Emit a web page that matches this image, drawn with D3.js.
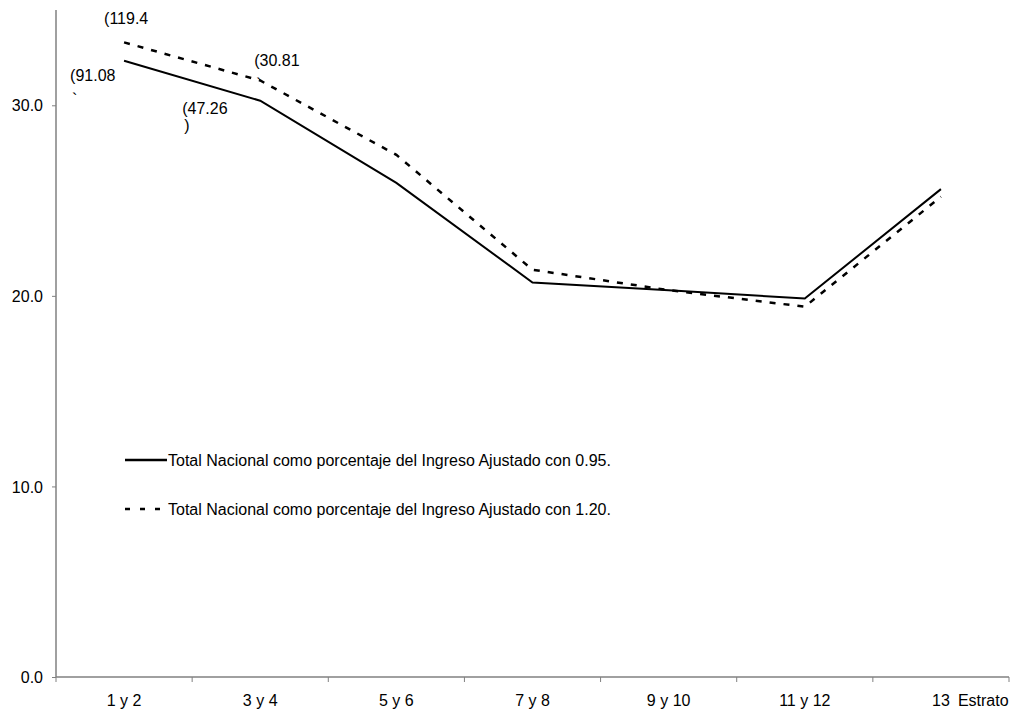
<!DOCTYPE html>
<html><head><meta charset="utf-8">
<script src="https://cdn.jsdelivr.net/npm/d3@7"></script>
<style>body{margin:0;background:#fff}svg{display:block}text{font-family:"Liberation Sans",Arial,sans-serif;font-size:16px;fill:#000}</style>
</head><body>
<script>
const categories = ["1 y 2","3 y 4","5 y 6","7 y 8","9 y 10","11 y 12","13"];
const serie095 = [32.34,30.24,25.93,20.7,20.3,19.86,25.6];
const serie120 = [33.3,31.3,27.4,21.37,20.3,19.43,25.2];
const seriesNames = ["Total Nacional como porcentaje del Ingreso Ajustado con 0.95.","Total Nacional como porcentaje del Ingreso Ajustado con 1.20."];
const yTicks = [0,10,20,30];
const annotations = [
  {cat:"1 y 2", v:34.27, dx:-20, lines:["(119.4"], gap:0},
  {cat:"1 y 2", v:31.27, dx:-54, lines:["(91.08","`"], gap:24},
  {cat:"3 y 4", v:32.06, dx:-6, lines:["(30.81","`"], gap:24},
  {cat:"3 y 4", v:29.54, dx:-78, lines:["(47.26",")"], gap:17}
];
const axisLabel = "Estrato";

const W=1012,H=710;
const svg=d3.select("body").append("svg").attr("width",W).attr("height",H);
const x=d3.scaleBand().domain(categories).range([56,1009]);
const y=d3.scaleLinear().domain([0,35]).range([677,10]);

// axes
const yAxis=svg.append("g").attr("transform","translate(56,0)")
  .call(d3.axisLeft(y).tickValues(yTicks).tickFormat(d3.format(".1f")).tickSize(4).tickPadding(9));
yAxis.attr("font-size",null).attr("font-family",null);
yAxis.select(".domain").attr("stroke","#808080").attr("stroke-width",1.5).attr("d","M0,677V10");
yAxis.selectAll(".tick line").attr("stroke","#808080");
yAxis.selectAll("text").attr("dy","0.35em");

const xAxis=svg.append("g").attr("transform","translate(0,677)")
  .call(d3.axisBottom(x).tickSize(0).tickPadding(18));
xAxis.attr("font-size",null).attr("font-family",null);
xAxis.select(".domain").attr("stroke","#808080").attr("stroke-width",1.5).attr("d","M56,0H1009");
const bounds=[...categories.map(c=>x(c)),x(categories[categories.length-1])+x.bandwidth()];
svg.append("g").selectAll("line").data(bounds).join("line")
  .attr("x1",d=>d).attr("x2",d=>d).attr("y1",677).attr("y2",682)
  .attr("stroke","#808080");
svg.append("text").attr("x",x("13")+x.bandwidth()/2+17).attr("y",706).text(axisLabel);

const line=d3.line().x((d,i)=>x(categories[i])+x.bandwidth()/2).y(d=>y(d));
svg.append("path").datum(serie120).attr("d",line).attr("fill","none").attr("stroke","#000").attr("stroke-width",2.5).attr("stroke-dasharray","6,8");
svg.append("path").datum(serie095).attr("d",line).attr("fill","none").attr("stroke","#000").attr("stroke-width",2);

// annotations
annotations.forEach(a=>{
  const x0=x(a.cat)+x.bandwidth()/2+a.dx;
  const t=svg.append("text").attr("x",x0).attr("y",y(a.v));
  a.lines.forEach((l,i)=>t.append("tspan").attr("x",x0+(i?2:0)).attr("dy",i?a.gap:0).text(l));
});

// legend
const lg=svg.append("g");
[0,1].forEach(i=>{
  const yy=460+i*49;
  lg.append("line").attr("x1",125).attr("x2",167).attr("y1",yy).attr("y2",yy)
    .attr("stroke","#000").attr("stroke-width",2.5).attr("stroke-dasharray",i?"5,10":null);
  lg.append("text").attr("x",168).attr("y",yy+6).text(seriesNames[i]);
});
</script>
</body></html>
